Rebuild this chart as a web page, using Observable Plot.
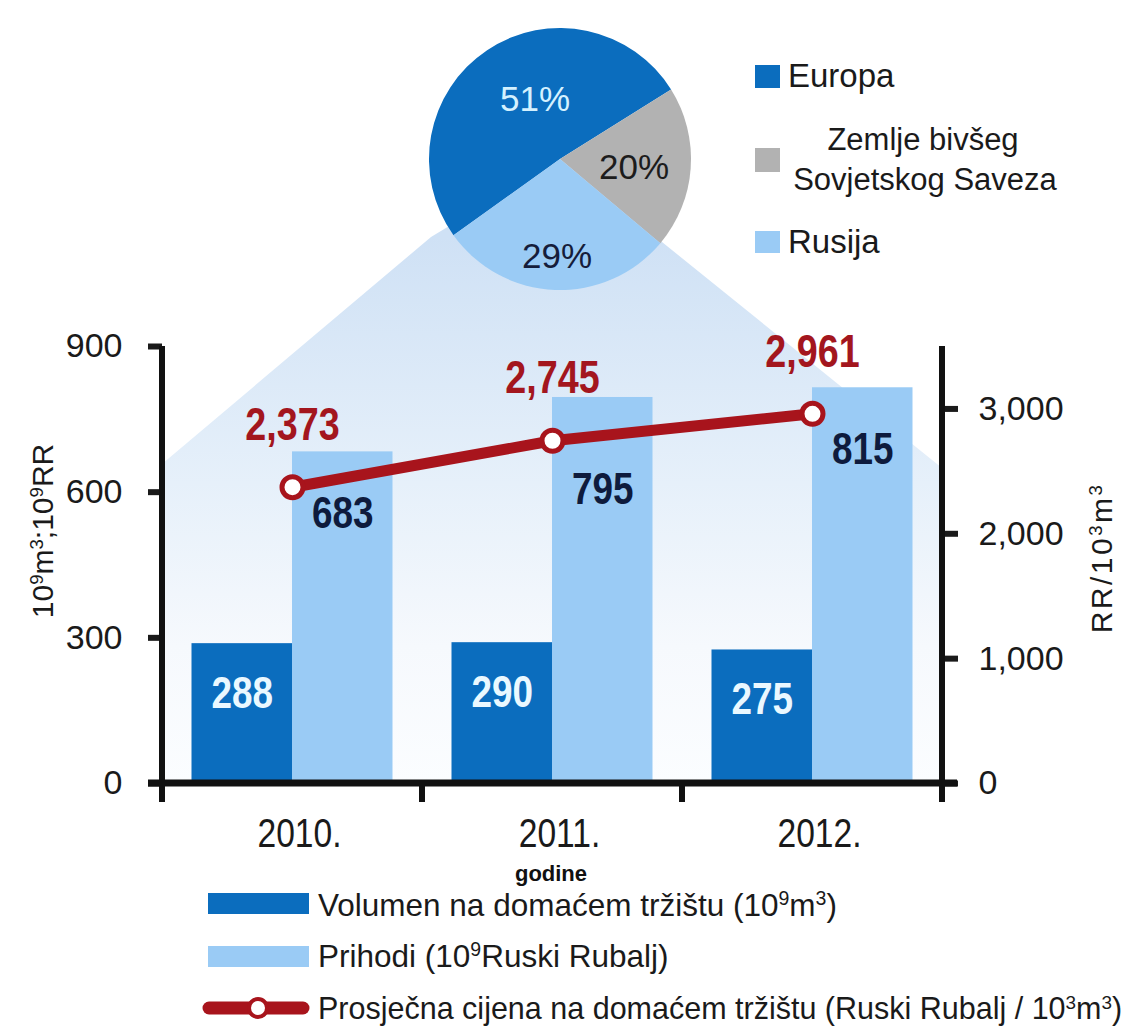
<!DOCTYPE html>
<html><head><meta charset="utf-8">
<script src="https://cdn.jsdelivr.net/npm/d3@7"></script>
<script src="https://cdn.jsdelivr.net/npm/@observablehq/plot@0.6"></script>
<style>
html,body{margin:0;padding:0;background:#fff;}
#chart{width:1131px;height:1030px;overflow:hidden;}
</style></head><body><div id="chart"></div>
<script>
// ---- data ----
const years = ["2010.", "2011.", "2012."];
const volumen = [288, 290, 275];          // 10^9 m^3
const prihodi = [683, 795, 815];          // 10^9 RR
const cijena = [2373, 2745, 2961];        // RR / 10^3 m^3
const leftTicks = [0, 300, 600, 900];
const rightTicks = [0, 1000, 2000, 3000];
const leftMax = 900, rightMax = 3500;
const pieNames = ["Europa", "Zemlje bivšeg Sovjetskog Saveza", "Rusija"];
const pieShares = [51, 20, 29];
const pieLabels = ["51%", "20%", "29%"];

// ---- layout / style ----
const W = 1131, H = 1030, ML = 162, MR = 189, MT = 346, MB = 247;
const BAND = (W - ML - MR) / years.length, BAR = 100.5, PAD = (BAND - 2 * BAR) / 2;
const k = leftMax / rightMax;
const C = {dark: "#0b6dbe", light: "#9acbf5", gray: "#b2b2b2", red: "#a8141c", ink: "#1a1a1a"};
const FONT = "'Liberation Sans', Arial, sans-serif";
const NARROW = "'Liberation Sans Narrow', 'Liberation Sans', Arial, sans-serif";
const NARROW_SCALE = 0.82;
const PIE = {cx: 560, cy: 159, r: 131, start: -125.6};
const pieLabelPos = [[-25, -61], [74, 7], [-3, 96]];
const pieLabelColor = ["#d4f1ff", "#1c1c1c", "#151d3b"];

const rows = years.map((y, i) => ({year: y, vol: volumen[i], rev: prihodi[i], price: cijena[i], priceY: cijena[i] * k, i}));

function richText(g, x, y, parts, opts) {
  const t = g.append("text").attr("x", x).attr("y", y)
    .attr("font-family", opts.family || FONT).attr("font-size", opts.size)
    .attr("fill", opts.fill || C.ink).attr("text-anchor", opts.anchor || "start");
  if (opts.transform) t.attr("transform", opts.transform);
  if (opts.weight) t.attr("font-weight", opts.weight);
  if (opts.spacing) t.attr("letter-spacing", opts.spacing);
  let raised = false;
  for (const p of parts) {
    const s = t.append("tspan").text(p.t);
    if (p.sup && !raised) { s.attr("dy", "-0.55em").attr("font-size", "0.62em"); raised = true; }
    else if (p.sup && raised) { s.attr("font-size", "0.62em"); }
    else if (!p.sup && raised) { s.attr("dy", (0.55 * 0.62) + "em"); raised = false; }
  }
  return t;
}

// background wedge from pie to chart
function shade(index, scales, values, dim) {
  const g = d3.create("svg:g");
  const grad = g.append("defs").append("linearGradient").attr("id", "shadeGrad")
    .attr("gradientUnits", "userSpaceOnUse").attr("x1", 0).attr("y1", 237).attr("x2", 0).attr("y2", dim.height - dim.marginBottom);
  [[0, "#cfe1f5"], [0.45, "#e6f0fa"], [0.75, "#f6f9fd"], [1, "#fbfdff"]].forEach(([o, c]) =>
    grad.append("stop").attr("offset", o).attr("stop-color", c));
  const x0 = dim.marginLeft, x1 = dim.width - dim.marginRight, yb = dim.height - dim.marginBottom;
  const pts = [[PIE.cx, PIE.cy], [431, 237], [x0, 464], [x0, yb], [x1, yb], [x1, 468], [662, 242]];
  g.append("path").attr("d", "M" + pts.join("L") + "Z").attr("fill", "url(#shadeGrad)");
  return g.node();
}

function pie(index, scales, values, dim) {
  const wrap = d3.create("svg:g").attr("text-anchor", "start");
  const g = wrap.append("g").attr("transform", `translate(${PIE.cx},${PIE.cy})`);
  const a0 = PIE.start * Math.PI / 180;
  const arcs = d3.pie().sort(null).startAngle(a0).endAngle(a0 + 2 * Math.PI)(pieShares);
  const arc = d3.arc().innerRadius(0).outerRadius(PIE.r);
  const cols = [C.dark, C.gray, C.light];
  g.selectAll("path").data(arcs).join("path").attr("d", arc).attr("fill", (d, i) => cols[i]);
  pieLabels.forEach((l, i) => {
    g.append("text").attr("x", pieLabelPos[i][0]).attr("y", pieLabelPos[i][1]).attr("dy", "0.36em")
      .attr("text-anchor", "middle").attr("font-family", FONT).attr("font-size", 35)
      .attr("fill", pieLabelColor[i]).text(l);
  });
  // pie legend
  const lg = wrap.append("g");
  const sq = [[65, 23], [148, 24], [231, 22]];
  sq.forEach(([y, h], i) => lg.append("rect").attr("x", 755).attr("y", y).attr("width", 25).attr("height", h).attr("fill", cols[i]));
  lg.append("text").attr("x", 788).attr("y", 87).attr("text-anchor", "start").attr("font-family", FONT).attr("font-size", 33).attr("fill", C.ink).text(pieNames[0]);
  const [l1, l2] = ["Zemlje bivšeg", "Sovjetskog Saveza"];
  lg.append("text").attr("x", 923).attr("y", 150).attr("text-anchor", "middle").attr("font-family", FONT).attr("font-size", 31).attr("fill", C.ink).text(l1);
  lg.append("text").attr("x", 925).attr("y", 190).attr("text-anchor", "middle").attr("font-family", FONT).attr("font-size", 31).attr("fill", C.ink).text(l2);
  lg.append("text").attr("x", 788).attr("y", 253).attr("text-anchor", "start").attr("font-family", FONT).attr("font-size", 33).attr("fill", C.ink).text(pieNames[2]);
  return wrap.node();
}

function axesLines(index, scales, values, dim) {
  const wrap = d3.create("svg:g");
  const g = wrap.append("g").attr("stroke", "#111").attr("stroke-width", 6);
  const x0 = dim.marginLeft, x1 = dim.width - dim.marginRight, yt = dim.marginTop, yb = dim.height - dim.marginBottom;
  g.append("line").attr("x1", x0).attr("x2", x0).attr("y1", yt).attr("y2", yb + 12);
  g.append("line").attr("x1", x1).attr("x2", x1).attr("y1", yt).attr("y2", yb + 12);
  g.append("line").attr("x1", x0 - 14).attr("x2", x1 + 15).attr("y1", yb).attr("y2", yb).attr("stroke-width", 7);
  const bounds = years.map(y => scales.x(y)).concat([scales.x(years[years.length - 1]) + BAND]);
  bounds.forEach(b => g.append("line").attr("x1", b).attr("x2", b).attr("y1", yb).attr("y2", yb + 19));
  // axis titles
  const t = wrap.append("g");
  richText(t, 0, 0, [{t: "10"}, {t: "9", sup: 1}, {t: "m"}, {t: "3", sup: 1}, {t: ";10"}, {t: "9", sup: 1}, {t: "RR"}],
    {size: 30, anchor: "middle", transform: "translate(53,531) rotate(-90)"});
  richText(t, 0, 0, [{t: "RR/10"}, {t: "3", sup: 1}, {t: "m"}, {t: "3", sup: 1}],
    {size: 30, anchor: "middle", spacing: 2.5, transform: "translate(1112,558) rotate(-90)"});
  // "godine"
  t.append("text").attr("x", 551).attr("y", 881).attr("text-anchor", "middle").attr("font-family", FONT)
    .attr("font-weight", "bold").attr("font-size", 22).attr("fill", "#111").text("godine");
  return wrap.node();
}

function legend(index, scales, values, dim) {
  const g = d3.create("svg:g");
  g.append("rect").attr("x", 208).attr("y", 893).attr("width", 101).attr("height", 21).attr("fill", C.dark);
  g.append("rect").attr("x", 208).attr("y", 946).attr("width", 101).attr("height", 21).attr("fill", C.light);
  g.append("line").attr("x1", 209).attr("x2", 303).attr("y1", 1008).attr("y2", 1008)
    .attr("stroke", C.red).attr("stroke-width", 13).attr("stroke-linecap", "round");
  g.append("circle").attr("cx", 258).attr("cy", 1008).attr("r", 9).attr("fill", "#fff").attr("stroke", C.red).attr("stroke-width", 4);
  richText(g, 318, 916, [{t: "Volumen na domaćem tržištu (10"}, {t: "9", sup: 1}, {t: "m"}, {t: "3", sup: 1}, {t: ")"}], {size: 31.5});
  richText(g, 318, 967, [{t: "Prihodi (10"}, {t: "9", sup: 1}, {t: "Ruski Rubalj)"}], {size: 31.5});
  richText(g, 318, 1019, [{t: "Prosječna cijena na domaćem tržištu (Ruski Rubalj / 10"}, {t: "3", sup: 1}, {t: "m"}, {t: "3", sup: 1}, {t: ")"}], {size: 30.5});
  return g.node();
}

const boldLabel = {fontSize: 45, fontWeight: "bold", fontFamily: NARROW};

const plot = Plot.plot({
  width: W, height: H,
  marginLeft: ML, marginRight: MR, marginTop: MT, marginBottom: MB,
  style: {fontFamily: FONT, background: "#fff", overflow: "visible"},
  x: {type: "band", domain: years, paddingInner: 0, paddingOuter: 0, label: null, axis: null},
  y: {domain: [0, leftMax], label: null, axis: null},
  marks: [
    shade,
    pie,
    Plot.barY(rows, {x: "year", y: "vol", fill: C.dark, insetLeft: PAD, insetRight: PAD + BAR}),
    Plot.barY(rows, {x: "year", y: "rev", fill: C.light, insetLeft: PAD + BAR, insetRight: PAD}),
    Plot.line(rows, {x: "year", y: "priceY", stroke: C.red, strokeWidth: 11}),
    Plot.dot(rows, {x: "year", y: "priceY", r: 10.5, fill: "#fff", stroke: C.red, strokeWidth: 5}),
    Plot.text(rows, {x: "year", y: "priceY", text: d => d3.format(",")(d.price), dy: -62,
      ...boldLabel, fontSize: 46, fill: "#a3161e"}),
    // revenue labels: the middle one sits lower in the original to clear the line
    Plot.text(rows, {filter: d => d.i !== 1, x: "year", y: "rev", text: d => String(d.rev), dx: BAR / 2, dy: 62,
      ...boldLabel, fill: "#0e1b3d"}),
    Plot.text(rows, {filter: d => d.i === 1, x: "year", y: "rev", text: d => String(d.rev), dx: BAR / 2, dy: 92,
      ...boldLabel, fill: "#0e1b3d"}),
    Plot.text(rows, {x: "year", y: "vol", text: d => String(d.vol), dx: -BAR / 2, dy: 50,
      ...boldLabel, fill: "#eaf8ff"}),
    Plot.axisY(leftTicks, {anchor: "left", tickSize: 14, tickPadding: 26, fontSize: 34, strokeWidth: 6, color: "#1a1a1a", label: null}),
    Plot.axisY(rightTicks.map(t => t * k), {anchor: "right", tickSize: 15, tickPadding: 21, fontSize: 34, strokeWidth: 6, color: "#1a1a1a", label: null,
      tickFormat: d => d3.format(",")(Math.round(d / k))}),
    Plot.axisX({anchor: "bottom", tickSize: 0, tickPadding: 34, fontSize: 41, fontFamily: NARROW, dx: 7, color: "#1a1a1a", label: null}),
    axesLines,
    legend
  ]
});
document.getElementById("chart").append(plot);

// condensed look: horizontally compress the "narrow" texts around their anchor
d3.select(plot).selectAll("g[font-family*='Narrow'] text").each(function () {
  let t = this.getAttribute("transform") || "";
  const x = this.getAttribute("x");
  if (x != null && x !== "" && !isNaN(+x) && +x !== 0) {
    t += ` translate(${+x},0)`;
    this.removeAttribute("x");
  }
  this.setAttribute("transform", t + ` scale(${NARROW_SCALE},1)`);
});
</script>
</body></html>
